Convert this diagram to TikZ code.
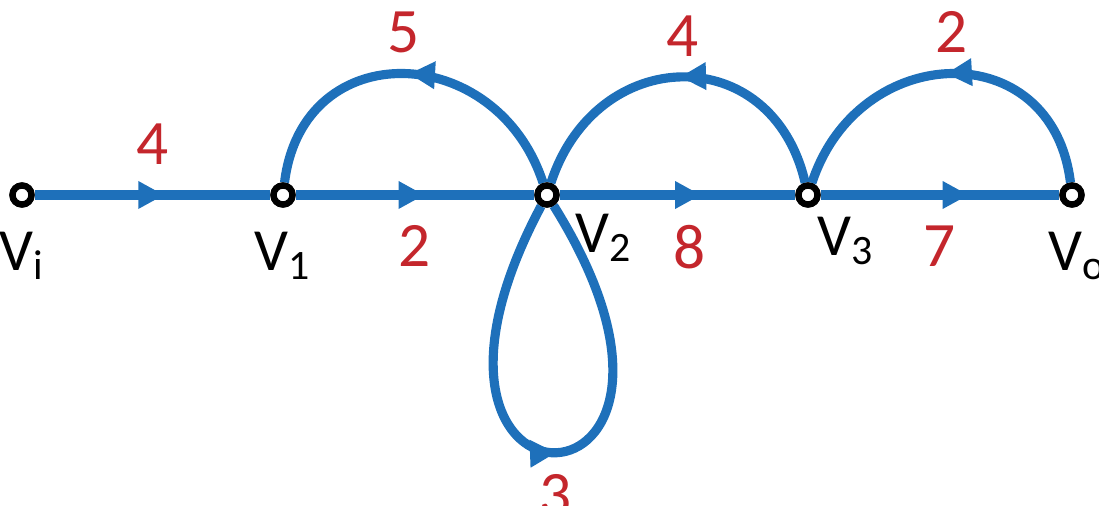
\documentclass[tikz,border=0pt]{standalone}
\usepackage{fontspec}
\setmainfont{Carlito}
\usetikzlibrary{arrows.meta, positioning, decorations.markings}
\definecolor{sfgblue}{RGB}{30,112,186}
\definecolor{gainred}{RGB}{196,38,44}
\tikzset{
  vnode/.style={circle, draw=black, fill=white, line width=1.8pt,
    minimum size=0.19cm, inner sep=0pt},
  vlabel/.style={font=\fontsize{17}{20}\selectfont, text=black, inner sep=0pt},
  gain/.style={font=\fontsize{18}{21}\selectfont, text=gainred, inner sep=0pt},
  branch/.style={draw, color=sfgblue, line width=2.6pt, postaction={decorate},
    decoration={markings, mark=at position #1 with
      {\arrow{Triangle[length=0.26cm, width=0.26cm]}}}},
  branch/.default=0.55
}

\begin{document}
\begin{tikzpicture}[x=0.01cm, y=0.01cm]
  \useasboundingbox (0,0) rectangle (1099,506);

  % nodes of the graph
  \node[vnode] (Vi) at (22,311) {};
  \node[vnode] (V1) at (283,311) {};
  \node[vnode] (V2) at (547,311) {};
  \node[vnode] (V3) at (808,311) {};
  \node[vnode] (Vo) at (1072,311) {};

  % forward branches
  \draw[branch=0.55] (Vi) -- node[gain, above=0.26cm] {4} (V1);
  \draw[branch=0.54] (V1) -- node[gain, below=0.26cm] {2} (V2);
  \draw[branch=0.6] (V2) -- node[gain, pos=0.55, below=0.26cm] {8} (V3);
  \draw[branch=0.62] (V3) -- node[gain, below=0.26cm] {7} (Vo);

  % feedback branches
  \draw[branch=0.5] (V2) to[out=108, in=83, looseness=1.48]
    node[gain, above=0.16cm] {5} (V1);
  \draw[branch=0.5] (V3) to[out=103, in=72, looseness=1.48]
    node[gain, above=0.16cm] {4} (V2);
  \draw[branch=0.5] (Vo) to[out=97, in=72, looseness=1.48]
    node[gain, above=0.16cm] {2} (V3);

  % self loop
  \draw[branch=0.5] (V2) to[out=-118, in=-58, min distance=3.8cm]
    node[gain, below=0.17cm] {3} (V2);

  % node circles on top
  \foreach \n in {Vi,V1,V2,V3,Vo}
    \node[vnode] at (\n) {};

  % labels
  \node[vlabel, below=0.24cm of Vi] {V\textsubscript{i}};
  \node[vlabel, below=0.24cm of V1] {V\textsubscript{1}};
  \node[vlabel, below right=0.09cm and 0.19cm of V2] {V\textsubscript{2}};
  \node[vlabel, below right=0.12cm and 0.0cm of V3] {V\textsubscript{3}};
  \node[vlabel, below=0.24cm of Vo, xshift=0.05cm] {V\textsubscript{o}};
\end{tikzpicture}
\end{document}
